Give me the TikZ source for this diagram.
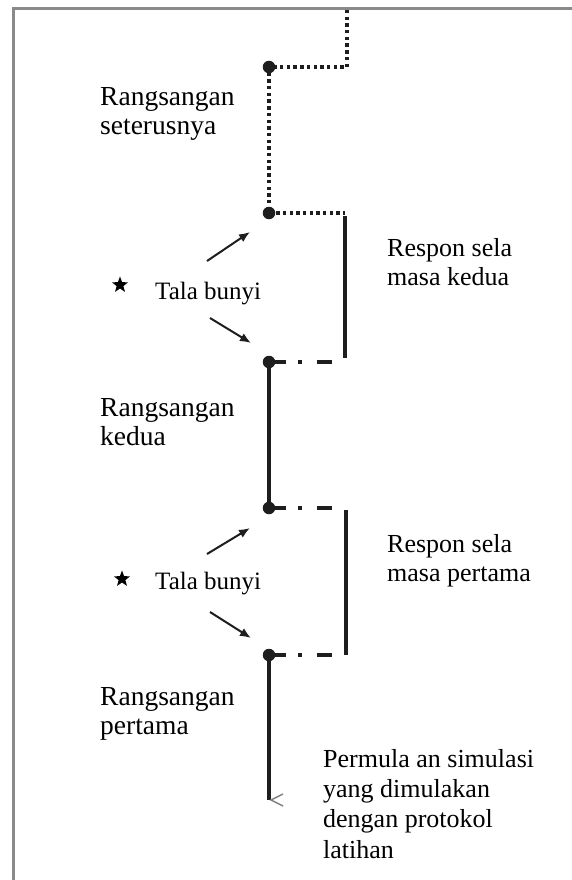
\documentclass[tikz,border=0pt]{standalone}
\usepackage{fontspec}
\setmainfont{Liberation Serif}
\usetikzlibrary{arrows.meta,shapes.geometric}
\definecolor{ink}{HTML}{1E1E1E}
\definecolor{frame}{HTML}{8A8A8A}
\tikzset{
  lbl/.style={anchor=base west, align=left, inner sep=0pt, font=\fontsize{26}{29}\selectfont, text=black},
  rlbl/.style={lbl, font=\fontsize{27.5}{29}\selectfont},
  tala/.style={anchor=base west, inner sep=0pt, font=\fontsize{25}{27}\selectfont, text=black},
  dotnode/.style={circle, fill=ink, inner sep=0pt, minimum size=12.5pt},
  dotline/.style={draw=ink, line width=3.6pt, dash pattern=on 3.4pt off 3.3pt},
  solidline/.style={draw=ink, line width=3.4pt},
  dashdot/.style={draw=ink, line width=3.4pt, dash pattern=on 17pt off 12pt on 3.5pt off 15pt on 15pt off 40pt},
  stim/.style={draw=ink, line width=2pt, -{Latex[length=11pt,width=9pt]}},
  starmark/.style={star, star points=5, star point ratio=2.4, fill=black, inner sep=0pt, minimum size=17pt}
}
\begin{document}
\begin{tikzpicture}[x=1pt,y=-1pt]
\useasboundingbox (0,0) rectangle (572,880);
\fill[white] (0,0) rectangle (572,880);
% frame
\coordinate (ftr) at (572,9);
\coordinate (ftl) at (13,9);
\coordinate (fbl) at (13,880);
\draw[frame, line width=3pt] (ftr) -- (ftl) -- (fbl);

% coordinates
\coordinate (t0) at (347,10);
\coordinate (t1) at (347,67);
\coordinate (r1t) at (345,213);
\coordinate (r1b) at (345,358);
\coordinate (h3) at (334,362);
\coordinate (r2t) at (346,510);
\coordinate (r2b) at (346,655);
\coordinate (h4) at (334,508);
\coordinate (h5) at (334,655);
\coordinate (e) at (269,800);

% dotted part
\draw[dotline] (t0) -- (t1) -- (269,67) -- (269,213) -- (r1t);
\draw[solidline] (345,216) -- (r1b);
% dash-dot connectors
\draw[dashdot] (269,362) -- (h3);
\draw[dashdot] (269,508) -- (h4);
\draw[dashdot] (269,655) -- (h5);
% solid verticals
\draw[solidline] (269,362) -- (269,508);
\draw[solidline] (r2t) -- (r2b);
\draw[solidline] (269,655) -- (e);
% open tip at bottom
\draw[draw=gray, line width=1.4pt] (283,794) -- (271,800) -- (283,806);

% dots
\node[dotnode] (d1) at (269,67) {};
\node[dotnode] (d2) at (269,213) {};
\node[dotnode] (d3) at (269,362) {};
\node[dotnode] (d4) at (269,508) {};
\node[dotnode] (d5) at (269,655) {};

% stimulus arrows
\coordinate (a1s) at (207,261);
\coordinate (a1e) at (250,232);
\coordinate (a2s) at (210,318);
\coordinate (a2e) at (251,343);
\coordinate (a3s) at (207,554);
\coordinate (a3e) at (250,528);
\coordinate (a4s) at (210,612);
\coordinate (a4e) at (251,638);
\draw[stim] (a1s) -- (a1e);
\draw[stim] (a2s) -- (a2e);
\draw[stim] (a3s) -- (a3e);
\draw[stim] (a4s) -- (a4e);

% stars and labels
\node[starmark] (s1) at (120,285) {};
\node[starmark] (s2) at (122,579) {};
\node[tala] (tb1) at (155,299) {Tala bunyi};
\node[tala] (tb2) at (155,589) {Tala bunyi};

\node[rlbl] (l1) at (100,135) {Rangsangan\\seterusnya};
\node[lbl] (l2) at (387,285) {Respon sela\\masa kedua};
\node[rlbl] (l3) at (100,445) {Rangsangan\\kedua};
\node[lbl] (l4) at (387,581) {Respon sela\\masa pertama};
\node[rlbl] (l5) at (100,734) {Rangsangan\\pertama};
\node[lbl, font=\fontsize{26}{30.3}\selectfont] (l6) at (323,858) {Permula an simulasi\\yang dimulakan\\dengan protokol\\latihan};
\end{tikzpicture}
\end{document}
